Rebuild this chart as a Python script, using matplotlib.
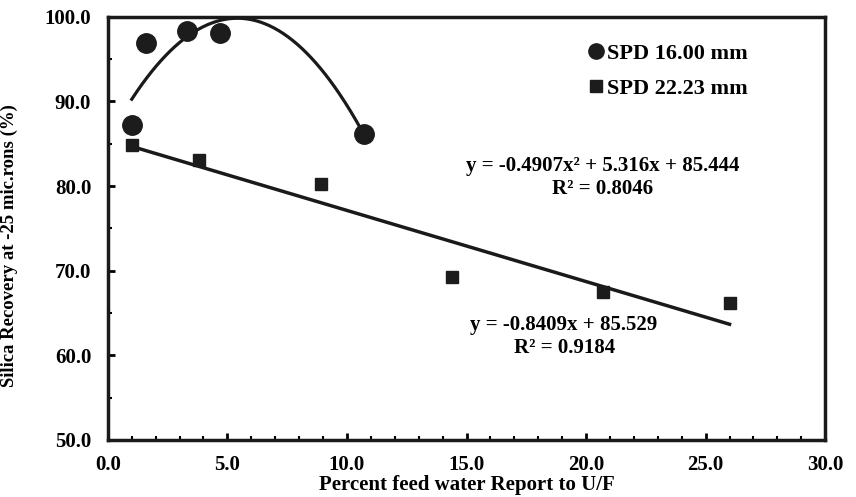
import numpy as np
import matplotlib
matplotlib.use("Agg")
import matplotlib.pyplot as plt

plt.rcParams['font.family'] = ['Liberation Serif', 'DejaVu Serif']
plt.rcParams['font.weight'] = 'bold'

# SPD 16.00 mm (circles)
x_16 = [1.0, 1.6, 3.3, 4.7, 10.7]
y_16 = [87.2, 96.9, 98.3, 98.1, 86.1]

# SPD 22.23 mm (squares)
x_22 = [1.0, 3.8, 8.9, 14.4, 20.7, 26.0]
y_22 = [84.9, 83.1, 80.3, 69.3, 67.5, 66.2]

# trend line coefficients as printed on the chart
poly_16 = [-0.4907, 5.316, 85.444]
poly_22 = [-0.8409, 85.529]

eq_16 = 'y = -0.4907x\u00b2 + 5.316x + 85.444\nR\u00b2 = 0.8046'
eq_22 = 'y = -0.8409x + 85.529\nR\u00b2 = 0.9184'

x_ticks = [0, 5, 10, 15, 20, 25, 30]
y_ticks = [50, 60, 70, 80, 90, 100]

fig, ax = plt.subplots(figsize=(8.56, 4.97), dpi=100)
fig.subplots_adjust(left=0.126, right=0.964, top=0.966, bottom=0.115)

# trend lines
xs = np.linspace(min(x_16), max(x_16), 200)
ax.plot(xs, np.polyval(poly_16, xs), color='#1a1a1a', lw=2.3, zorder=2)
xl = np.linspace(min(x_22), max(x_22), 200)
ax.plot(xl, np.polyval(poly_22, xl), color='#1a1a1a', lw=2.5, zorder=2)

ax.plot(x_16, y_16, 'o', color='#1c1c1c', ms=14, ls='none', label='SPD 16.00 mm', zorder=3)
ax.plot(x_22, y_22, 's', color='#1c1c1c', ms=8.5, ls='none', label='SPD 22.23 mm', zorder=3)

ax.set_xlim(0, 30)
ax.set_ylim(50, 100)
ax.set_xticks(x_ticks)
ax.set_xticklabels([f'{v:.1f}' for v in x_ticks])
ax.set_yticks(y_ticks)
ax.set_yticklabels([f'{v:.1f}' for v in y_ticks])
ax.set_xticks(np.arange(0, 31, 1), minor=True)
ax.set_yticks(np.arange(50, 101, 5), minor=True)
ax.tick_params(axis='both', which='major', direction='in', length=5, width=2,
               labelsize=15)
ax.tick_params(axis='x', which='major', pad=11)
ax.tick_params(axis='y', which='major', pad=12)
ax.tick_params(axis='both', which='minor', direction='in', length=3, width=1.5)

for s in ax.spines.values():
    s.set_linewidth(2.5)
    s.set_color('#1a1a1a')

ax.set_xlabel('Percent feed water Report to U/F', fontsize=15, fontweight='bold', labelpad=0)
ax.set_ylabel('Silica Recovery at -25 mic.rons (%)', fontsize=13.5, fontweight='bold', labelpad=6)
ax.yaxis.set_label_coords(-0.125, 0.46)

leg = ax.legend(loc='upper right', bbox_to_anchor=(0.92, 0.985), frameon=False,
                prop={'size': 16, 'weight': 'bold'}, handletextpad=0.05,
                handlelength=0.9, labelspacing=0.65)
for h in leg.legend_handles:
    h.set_markersize(11 if h.get_marker() == 'o' else 8)

ax.text(0.69, 0.62, eq_16, transform=ax.transAxes, ha='center', va='center',
        multialignment='center', fontsize=15, fontweight='bold', linespacing=1.25)
ax.text(0.636, 0.245, eq_22, transform=ax.transAxes, ha='center', va='center',
        multialignment='center', fontsize=15, fontweight='bold', linespacing=1.2)

fig.savefig('out.png', dpi=100)
